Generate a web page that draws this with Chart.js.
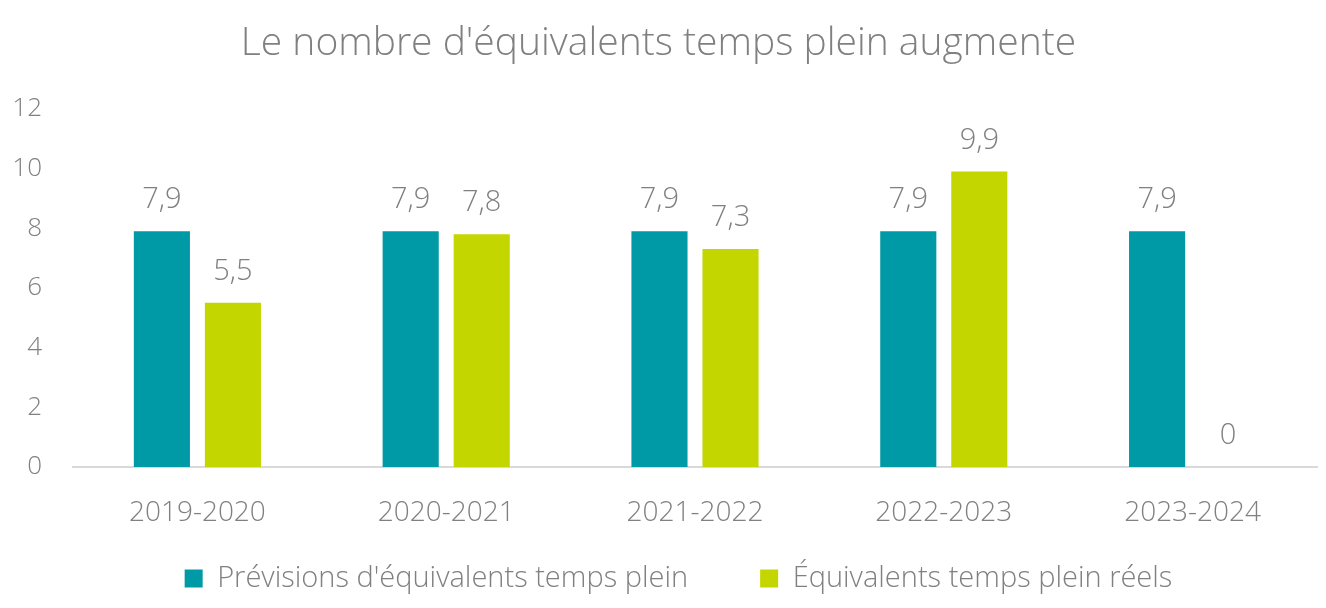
<!DOCTYPE html>
<html>
<head>
<meta charset="utf-8">
<script src="https://cdn.jsdelivr.net/npm/chart.js@4.4.0/dist/chart.umd.min.js"></script>
<style>
  html, body { margin: 0; padding: 0; background: #fff; }
  #wrap { width: 1326px; height: 608px; }
</style>
</head>
<body>
<div id="wrap"><canvas id="fte-chart"></canvas></div>
<script>
  const categories = ['2019-2020', '2020-2021', '2021-2022', '2022-2023', '2023-2024'];
  const forecastFte = [7.9, 7.9, 7.9, 7.9, 7.9];
  const actualFte = [5.5, 7.8, 7.3, 9.9, 0];
  const yTicks = [0, 2, 4, 6, 8, 10, 12];

  const grey = '#808080';
  const fontFamily = "'Open Sans', 'Noto Sans', sans-serif";

  // étiquettes de valeurs au-dessus des barres
  const valueLabels = {
    id: 'valueLabels',
    afterDatasetsDraw(chart) {
      const ctx = chart.ctx;
      ctx.save();
      ctx.font = '300 29px ' + fontFamily;
      ctx.fillStyle = grey;
      ctx.textAlign = 'center';
      ctx.textBaseline = 'middle';
      chart.data.datasets.forEach((ds, i) => {
        chart.getDatasetMeta(i).data.forEach((bar, j) => {
          const txt = String(ds.data[j]).replace('.', ',');
          ctx.fillText(txt, bar.x, bar.y - 31);
        });
      });
      ctx.restore();
    }
  };

  // la légende est un peu décalée vers la droite dans l'original
  const legendShift = {
    id: 'legendShift',
    afterLayout(chart) {
      if (chart.legend) {
        chart.legend.left += 20;
        chart.legend.right += 20;
      }
    }
  };

  new Chart(document.getElementById('fte-chart'), {
    type: 'bar',
    data: {
      labels: categories,
      datasets: [{
        label: "Prévisions d'équivalents temps plein",
        data: forecastFte,
        backgroundColor: '#009AA6',
        barPercentage: 0.79,
        categoryPercentage: 0.571
      }, {
        label: 'Équivalents temps plein réels',
        data: actualFte,
        backgroundColor: '#C4D600',
        barPercentage: 0.79,
        categoryPercentage: 0.571
      }]
    },
    options: {
      responsive: true,
      maintainAspectRatio: false,
      animation: false,
      layout: { padding: { left: 0, right: 9, top: 0, bottom: 5 } },
      scales: {
        y: {
          min: 0,
          max: 12,
          afterBuildTicks: (axis) => { axis.ticks = yTicks.map(v => ({ value: v })); },
          afterFit: (axis) => { axis.width = 73; },
          grid: { display: false },
          border: { display: false },
          ticks: { color: grey, font: { family: fontFamily, size: 26, weight: '300' }, padding: 23 }
        },
        x: {
          // hauteur réduite : les libellés débordent sur la zone de la légende
          afterFit: (axis) => {
            axis.height = 25;
            axis._computeLabelArea = () => null;
          },
          grid: { display: false },
          border: { display: true, color: '#D9D9D9', width: 2 },
          ticks: { color: grey, font: { family: fontFamily, size: 28, weight: '300' }, padding: 21 }
        }
      },
      plugins: {
        title: {
          display: true,
          text: "Le nombre d'équivalents temps plein augmente",
          color: grey,
          font: { family: fontFamily, size: 39, weight: '300' },
          padding: { top: 20, bottom: 42 }
        },
        legend: {
          position: 'bottom',
          labels: {
            color: grey,
            font: { family: fontFamily, size: 29, weight: '300' },
            boxWidth: 18,
            boxHeight: 18,
            padding: 72
          }
        },
        tooltip: { enabled: false }
      }
    },
    plugins: [valueLabels, legendShift]
  });
</script>
</body>
</html>
